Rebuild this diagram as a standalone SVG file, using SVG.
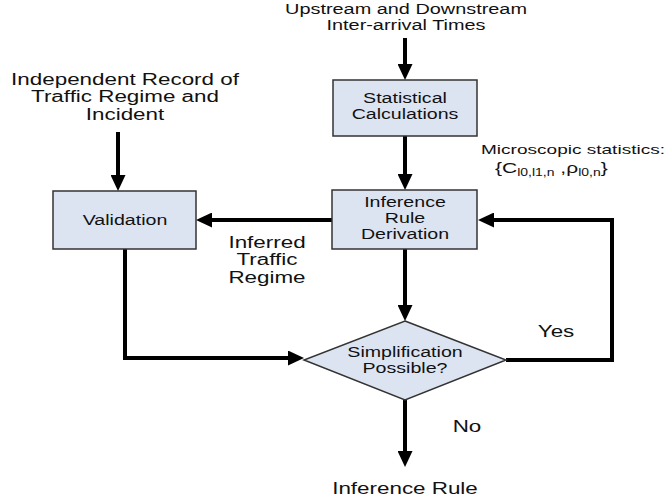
<svg xmlns="http://www.w3.org/2000/svg" width="667" height="501" viewBox="0 0 667 501">
<style>
text{font-family:"Liberation Sans",Arial,sans-serif;fill:#111;text-anchor:middle}
.s{font-size:14px}
.l{font-size:16px}
.box{fill:#dde4f1;stroke:#333;stroke-width:1.5}
.c{fill:none;stroke:#000;stroke-width:4;marker-end:url(#ah)}
</style>
<defs>
<marker id="ah" markerUnits="userSpaceOnUse" markerWidth="17" markerHeight="15" refX="4" refY="7.5" orient="auto">
<path d="M0,0 L16,7.5 L0,15 z" fill="#000"/>
</marker>
</defs>
<rect width="667" height="501" fill="#fff"/>

<g id="connectors">
<path class="c" d="M405,38 V68"/>
<path class="c" d="M405,136 V178"/>
<path class="c" d="M118,132 V179"/>
<path class="c" d="M332,220 H208"/>
<path class="c" d="M405,249 V309"/>
<path class="c" d="M125,249 V358 H292"/>
<path class="c" d="M506,360 H612 V220 H490"/>
<path class="c" d="M405,400 V455"/>
</g>

<g id="input-times">
<text class="s" transform="translate(406,14) scale(1.42,1)"><tspan x="0">Upstream and Downstream</tspan><tspan x="0" dy="16">Inter-arrival Times</tspan></text>
</g>

<g id="statistical">
<rect class="box" x="333" y="80" width="144" height="56"/>
<text class="s" transform="translate(405,103) scale(1.4,1)"><tspan x="0">Statistical</tspan><tspan x="0" dy="16">Calculations</tspan></text>
</g>

<g id="micro-label">
<text style="font-size:13.6px" transform="translate(573,154) scale(1.4,1)">Microscopic statistics:</text>
<text style="font-size:15px;text-anchor:start" transform="translate(495,173) scale(1.4,1)">{C<tspan font-size="10" dy="3">l0,l1,n</tspan><tspan dy="-3"> ,ρ</tspan><tspan font-size="10" dy="3">l0,n</tspan><tspan dy="-3">}</tspan></text>
</g>

<g id="independent-record">
<text class="l" transform="translate(125,85) scale(1.4,1)"><tspan x="0">Independent Record of</tspan><tspan x="0" dy="17.5">Traffic Regime and</tspan><tspan x="0" dy="17.5">Incident</tspan></text>
</g>

<g id="validation">
<rect class="box" x="53" y="191" width="143" height="58"/>
<text class="s" transform="translate(125,225) scale(1.4,1)">Validation</text>
</g>

<g id="inference-derivation">
<rect class="box" x="332" y="190" width="145" height="59"/>
<text class="s" transform="translate(405,207) scale(1.4,1)"><tspan x="0">Inference</tspan><tspan x="0" dy="16">Rule</tspan><tspan x="0" dy="16">Derivation</tspan></text>
</g>

<g id="inferred-label">
<text class="l" transform="translate(267,248) scale(1.4,1)"><tspan x="0">Inferred</tspan><tspan x="0" dy="17.5">Traffic</tspan><tspan x="0" dy="17.5">Regime</tspan></text>
</g>

<g id="simplification">
<polygon class="box" points="405,321 506,360 405,400 304,360"/>
<text class="s" transform="translate(405,357) scale(1.4,1)"><tspan x="0">Simplification</tspan><tspan x="0" dy="16">Possible?</tspan></text>
</g>

<g id="labels">
<text class="l" transform="translate(556,337) scale(1.4,1)">Yes</text>
<text class="l" transform="translate(467,432) scale(1.4,1)">No</text>
</g>

<g id="inference-rule">
<text class="l" transform="translate(405,494) scale(1.4,1)">Inference Rule</text>
</g>
</svg>
